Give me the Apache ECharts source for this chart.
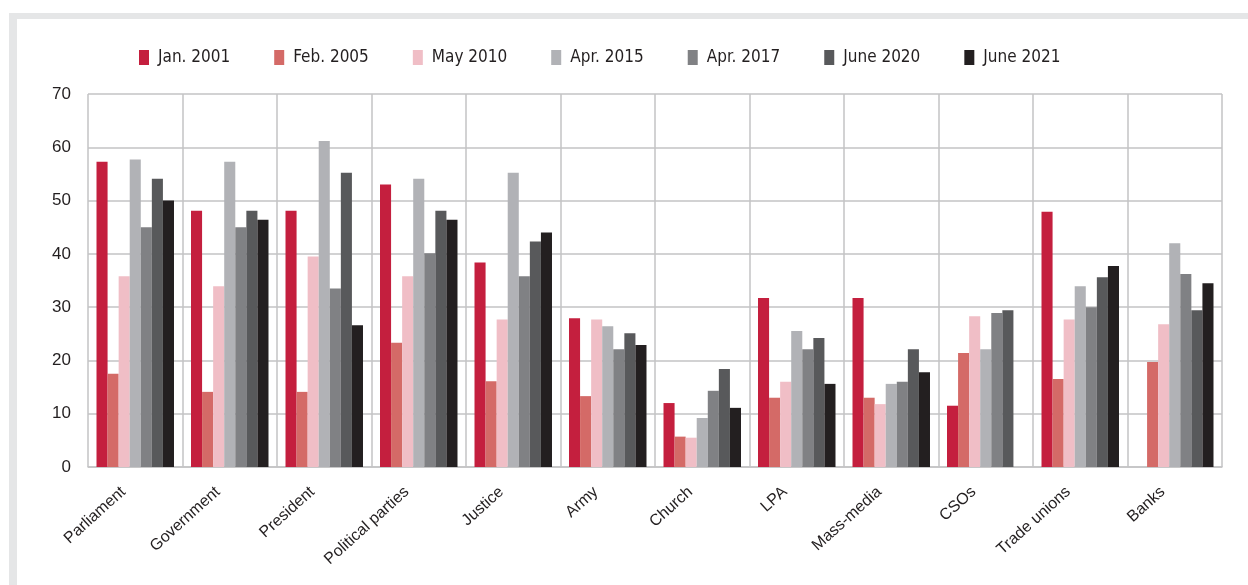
<!DOCTYPE html>
<html>
<head>
<meta charset="utf-8">
<script src="https://cdn.jsdelivr.net/npm/echarts@6/dist/echarts.min.js"></script>
<style>
    html, body { margin: 0; padding: 0; background: #fff; }
    #chart { position: absolute; left: 0; top: 0; width: 1248px; height: 585px; }
    .frame { position: absolute; background: #e5e6e7; }
</style>
</head>
<body>
<div id="chart"></div>
<div class="frame" style="left:9px;top:13px;width:1239px;height:6px;"></div>
<div class="frame" style="left:9px;top:13px;width:8px;height:572px;"></div>
<script>
// institutions
const categories = ['Parliament', 'Government', 'President', 'Political parties', 'Justice', 'Army',
    'Church', 'LPA', 'Mass-media', 'CSOs', 'Trade unions', 'Banks'];

const seriesNames = ['Jan. 2001', 'Feb. 2005', 'May 2010', 'Apr. 2015', 'Apr. 2017', 'June 2020', 'June 2021'];
const seriesColors = ['#c41f3e', '#d46a67', '#f0bec6', '#b1b2b6', '#808184', '#58595b', '#231f20'];

const jan2001 = [57.3, 48.1, 48.1, 53.0, 38.4, 27.9, 12.0, 31.7, 31.7, 11.5, 47.9, null];
const feb2005 = [17.5, 14.1, 14.1, 23.3, 16.1, 13.3, 5.7, 13.0, 13.0, 21.4, 16.5, 19.7];
const may2010 = [35.8, 33.9, 39.5, 35.8, 27.7, 27.7, 5.5, 16.0, 11.8, 28.3, 27.7, 26.8];
const apr2015 = [57.7, 57.3, 61.2, 54.1, 55.2, 26.4, 9.2, 25.5, 15.6, 22.1, 33.9, 42.0];
const apr2017 = [45.0, 45.0, 33.5, 40.1, 35.8, 22.1, 14.3, 22.1, 16.0, 28.9, 30.0, 36.2];
const june2020 = [54.1, 48.1, 55.2, 48.1, 42.3, 25.1, 18.4, 24.2, 22.1, 29.4, 35.6, 29.4];
const june2021 = [50.0, 46.4, 26.6, 46.4, 44.0, 22.9, 11.1, 15.6, 17.8, null, 37.7, 34.5];

const values = [jan2001, feb2005, may2010, apr2015, apr2017, june2020, june2021];

const gridColor = '#c3c3c5';

const chart = echarts.init(document.getElementById('chart'));
chart.setOption({
    animation: false,
    color: seriesColors,
    legend: {
        data: seriesNames,
        top: 44,
        left: 134,
        itemWidth: 10,
        itemHeight: 15,
        itemGap: 44,
        icon: 'rect',
        textStyle: {
            fontFamily: "'Liberation Sans Narrow', 'DejaVu Sans Condensed', sans-serif",
            fontSize: 17,
            color: '#231f20',
            padding: [0, 0, 0, 4]
        }
    },
    grid: { left: 88, right: 26, top: 94, bottom: 118 },
    xAxis: {
        type: 'category',
        data: categories,
        axisLine: { show: true, lineStyle: { color: gridColor, width: 1.5 } },
        axisTick: { show: false },
        splitLine: { show: true, lineStyle: { color: gridColor, width: 1.5 } },
        axisLabel: {
            interval: 0,
            rotate: 42,
            margin: 12,
            padding: [0, 16, 0, 0],
            fontFamily: "'Liberation Sans', Arial, sans-serif",
            fontSize: 16,
            color: '#231f20'
        }
    },
    yAxis: {
        type: 'value',
        min: 0,
        max: 70,
        interval: 10,
        axisLine: { show: false },
        axisTick: { show: false },
        splitLine: { lineStyle: { color: gridColor, width: 1.5 } },
        axisLabel: {
            margin: 17,
            fontFamily: "'Liberation Sans', Arial, sans-serif",
            fontSize: 17,
            color: '#231f20'
        }
    },
    series: seriesNames.map((name, i) => ({
        name: name,
        type: 'bar',
        data: values[i],
        barGap: '0%',
        barCategoryGap: '18%'
    }))
});
</script>
</body>
</html>
